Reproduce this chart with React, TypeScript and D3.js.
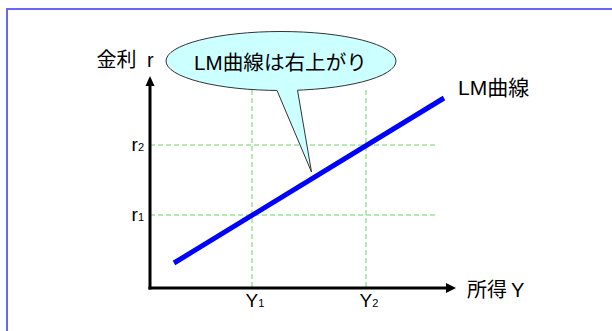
import React from "react";
import * as d3 from "d3";

// Income (Y) and interest rate (r) in arbitrary units
const incomeTicks = [34, 72];
const incomeTickSubs = ["1", "2"];
const rateTicks = [36.5, 71.5];
const rateTickSubs = ["1", "2"];
const lmIncome = [8, 98];
const lmRate = [12.5, 95];
const guideTop = 99;
const guideRight = 95;

const W = 612;
const H = 331;
const FONT = '"Liberation Sans", Arial, "Noto Sans CJK JP", sans-serif';
const GUIDE = "#66d966";

export default function App() {
  const x = d3.scaleLinear().domain([0, 100]).range([150, 450]);
  const y = d3.scaleLinear().domain([0, 106]).range([288, 76]);

  const lmPoints = lmIncome.map((v, i) => [v, lmRate[i]] as [number, number]);
  const line = d3
    .line<[number, number]>()
    .x((d) => x(d[0]))
    .y((d) => y(d[1]));

  const x0 = x(0);
  const y0 = y(0);
  const xTip = x(102);
  const yTip = y(106);

  // speech bubble geometry
  const cx = 281;
  const cy = 61;
  const rx = 115;
  const ry = 29.5;
  const ellY = (px: number) => cy + ry * Math.sqrt(1 - ((px - cx) / rx) ** 2);
  const tailL = 277;
  const tailR = 297.5;
  const tip: [number, number] = [311.5, 172];

  return (
    <div style={{ position: "fixed", left: 0, top: 0 }}>
      <svg width={W} height={H} style={{ display: "block", background: "#fff" }}>
        <rect x={7} y={9} width={700} height={400} fill="none" stroke="#6666ff" strokeWidth={2} />

        {/* dashed guides */}
        <g stroke={GUIDE} strokeWidth={1} strokeDasharray="5,3" fill="none">
          {rateTicks.map((r, i) => (
            <line key={"h" + i} x1={x0} x2={x(guideRight)} y1={y(r)} y2={y(r)} />
          ))}
          {incomeTicks.map((v, i) => (
            <line key={"v" + i} x1={x(v)} x2={x(v)} y1={y(guideTop)} y2={y0} />
          ))}
        </g>

        {/* LM curve */}
        <path d={line(lmPoints) || ""} fill="none" stroke="#0000ff" strokeWidth={5} strokeLinecap="butt" />

        {/* axes */}
        <g stroke="#000" strokeWidth={3} fill="none">
          <line x1={x0} x2={x0} y1={y0 + 1.5} y2={yTip + 9} />
          <line x1={x0 - 1.5} x2={xTip - 9} y1={y0} y2={y0} />
        </g>
        <path d={`M${x0},${yTip} L${x0 - 4.5},${yTip + 10} L${x0 + 4.5},${yTip + 10} Z`} fill="#000" />
        <path d={`M${xTip},${y0} L${xTip - 10},${y0 - 5} L${xTip - 10},${y0 + 5} Z`} fill="#000" />

        {/* tick labels */}
        <g fontFamily={FONT} fill="#000">
          {incomeTicks.map((v, i) => (
            <text key={"yt" + i} x={x(v) - 6.5} y={306.5} fontSize={19}>
              Y<tspan fontSize={11}>{incomeTickSubs[i]}</tspan>
            </text>
          ))}
          {rateTicks.map((r, i) => (
            <text key={"rt" + i} x={144} y={y(r) + 5.5} fontSize={19} textAnchor="end">
              r<tspan fontSize={11}>{rateTickSubs[i]}</tspan>
            </text>
          ))}

          {/* axis titles */}
          <text x={96.5} y={66.5} fontSize={20}>金利</text>
          <text x={147} y={66.5} fontSize={20}>r</text>
          <text x={467} y={296.5} fontSize={20}>所得</text>
          <text x={511} y={296.5} fontSize={20}>Y</text>

          {/* curve label */}
          <text x={458} y={95} fontSize={21}>LM曲線</text>
        </g>

        {/* speech bubble */}
        <ellipse cx={cx} cy={cy} rx={rx} ry={ry} fill="#ccffff" stroke="#333" strokeWidth={1} />
        <polygon
          points={`${tailL},${ellY(tailL) - 4} ${tailL},${ellY(tailL)} ${tip[0]},${tip[1]} ${tailR},${ellY(tailR)} ${tailR},${ellY(tailR) - 4}`}
          fill="#ccffff"
        />
        <g stroke="#333" strokeWidth={1}>
          <line x1={tailL} y1={ellY(tailL)} x2={tip[0]} y2={tip[1]} />
          <line x1={tailR} y1={ellY(tailR)} x2={tip[0]} y2={tip[1]} />
        </g>
        <text x={280.5} y={70} fontSize={20.6} textAnchor="middle" fontFamily={FONT} fill="#000">
          LM曲線は右上がり
        </text>
      </svg>
    </div>
  );
}
